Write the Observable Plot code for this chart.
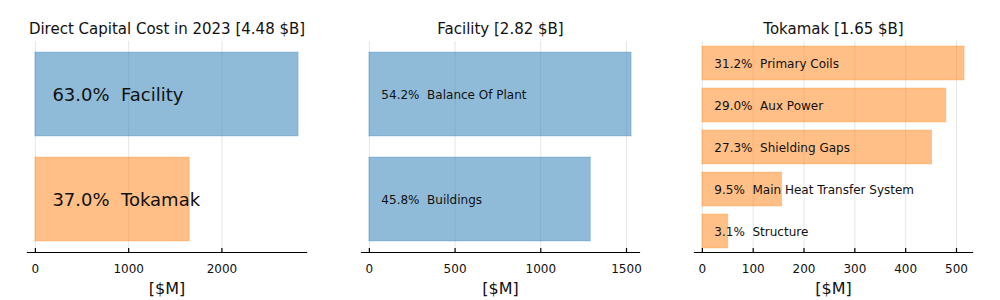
<!DOCTYPE html>
<html>
<head>
<meta charset="utf-8">
<script src="https://cdn.jsdelivr.net/npm/d3@7"></script>
<script src="https://cdn.jsdelivr.net/npm/@observablehq/plot@0.6"></script>
<style>
  html, body { margin: 0; padding: 0; background: #fff; }
  #wrap { position: relative; width: 1000px; height: 300px; font-family: "DejaVu Sans", sans-serif; }
  #wrap > div { position: absolute; top: 0; }
  svg { font-family: "DejaVu Sans", sans-serif; }
</style>
</head>
<body>
<div id="wrap"><div id="p1" style="left:0px"></div><div id="p2" style="left:333px"></div><div id="p3" style="left:666px"></div></div>
<script>
// ---- data ----
const titles = ["Direct Capital Cost in 2023 [4.48 $B]", "Facility [2.82 $B]", "Tokamak [1.65 $B]"];

const overviewNames = ["Facility", "Tokamak"];
const overviewValues = [2822, 1656];
const overviewShares = ["63.0%", "37.0%"];
const overviewColors = ["#1f77b4", "#ff7f0e"];
const overviewTicks = [0, 1000, 2000];

const facilityNames = ["Balance Of Plant", "Buildings"];
const facilityValues = [1530, 1292];
const facilityShares = ["54.2%", "45.8%"];
const facilityTicks = [0, 500, 1000, 1500];

const tokamakNames = ["Primary Coils", "Aux Power", "Shielding Gaps", "Main Heat Transfer System", "Structure"];
const tokamakValues = [516, 480, 452, 157, 51];
const tokamakShares = ["31.2%", "29.0%", "27.3%", "9.5%", "3.1%"];
const tokamakTicks = [0, 100, 200, 300, 400, 500];

const xLabel = "[$M]";

function panel({el, width, ml, mr, title, names, values, shares, colors, ticks, fontSize, dx}) {
  const rows = names.map((n, i) => ({name: n, value: values[i], label: `${shares[i]}  ${n}`, color: colors[i]}));
  const mx = d3.max(values);
  const chart = Plot.plot({
    width, height: 300,
    marginLeft: ml, marginRight: mr, marginTop: 41, marginBottom: 48,
    style: {fontFamily: "DejaVu Sans, sans-serif", background: "transparent"},
    x: {domain: [-0.03 * mx, 1.03 * mx], ticks: ticks, label: null},
    y: {domain: names, paddingInner: 0.2, paddingOuter: 0.1, axis: null},
    marks: [
      Plot.gridX(ticks, {stroke: "#000", strokeOpacity: 0.1, strokeWidth: 1}),
      Plot.barX(rows, {x: "value", y: "name", fill: "color", fillOpacity: 0.5, stroke: "color", strokeOpacity: 0.25, strokeWidth: 1}),
      Plot.text(rows, {x: 0, y: "name", text: "label", textAnchor: "start", dx: dx, dy: 1, fontSize: fontSize, fill: "#111"}),
      Plot.frame({anchor: "bottom", stroke: "#000", strokeWidth: 1.2}),
      Plot.axisX(ticks, {tickSize: -4, tickPadding: 16, tickFormat: "d", fontSize: 12, fill: "#111", stroke: "#000", strokeWidth: 1.2, label: null}),
      Plot.text([xLabel], {frameAnchor: "bottom", dy: 41, fontSize: 16, fill: "#111"}),
      Plot.text([title], {frameAnchor: "top", dy: -18, fontSize: 15, fill: "#111"})
    ]
  });
  document.getElementById(el).append(chart);
  return chart;
}

panel({el: "p1", width: 333, ml: 27, mr: 27, title: titles[0], names: overviewNames, values: overviewValues,
  shares: overviewShares, colors: overviewColors, ticks: overviewTicks, fontSize: 18, dx: 17});
panel({el: "p2", width: 333, ml: 28, mr: 27, title: titles[1], names: facilityNames, values: facilityValues,
  shares: facilityShares, colors: facilityNames.map(() => overviewColors[0]), ticks: facilityTicks, fontSize: 12, dx: 12});
panel({el: "p3", width: 334, ml: 28, mr: 28, title: titles[2], names: tokamakNames, values: tokamakValues,
  shares: tokamakShares, colors: tokamakNames.map(() => overviewColors[1]), ticks: tokamakTicks, fontSize: 12, dx: 12});
</script>
</body>
</html>
